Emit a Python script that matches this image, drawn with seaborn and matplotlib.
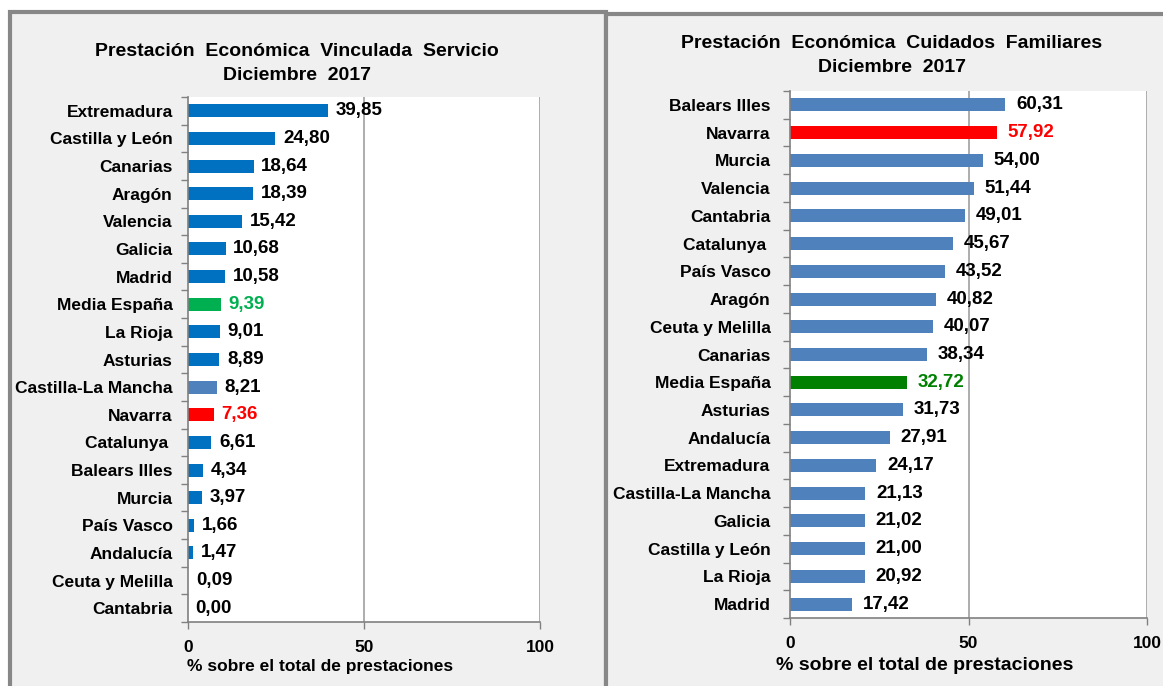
import matplotlib
matplotlib.use("Agg")
import matplotlib.pyplot as plt
from matplotlib.patches import Rectangle
from matplotlib.ticker import FixedLocator
import pandas as pd
import seaborn as sns

# Prestación Económica Vinculada Servicio (left panel)
left_regions = ["Extremadura", "Castilla y León", "Canarias", "Aragón", "Valencia",
                "Galicia", "Madrid", "Media España", "La Rioja", "Asturias",
                "Castilla-La Mancha", "Navarra", "Catalunya ", "Balears Illes",
                "Murcia", "País Vasco", "Andalucía", "Ceuta y Melilla", "Cantabria"]
left_values = [39.85, 24.80, 18.64, 18.39, 15.42, 10.68, 10.58, 9.39, 9.01, 8.89,
               8.21, 7.36, 6.61, 4.34, 3.97, 1.66, 1.47, 0.09, 0.00]

# Prestación Económica Cuidados Familiares (right panel)
right_regions = ["Balears Illes", "Navarra", "Murcia", "Valencia", "Cantabria",
                 "Catalunya ", "País Vasco", "Aragón", "Ceuta y Melilla", "Canarias",
                 "Media España", "Asturias", "Andalucía", "Extremadura",
                 "Castilla-La Mancha", "Galicia", "Castilla y León", "La Rioja", "Madrid"]
right_values = [60.31, 57.92, 54.00, 51.44, 49.01, 45.67, 43.52, 40.82, 40.07, 38.34,
                32.72, 31.73, 27.91, 24.17, 21.13, 21.02, 21.00, 20.92, 17.42]

xticks = [0, 50, 100]
FONT = "Liberation Sans"
W, H = 1163, 686
FS = 12.5


def colors_for(regions, base, special):
    pal = {r: base for r in regions}
    pal.update(special)
    return pal


def draw_panel(fig, rect, regions, values, palette, text_colors, pad, gap):
    ax = fig.add_axes(rect, zorder=2)
    df = pd.DataFrame({"region": regions, "value": values})
    sns.barplot(data=df, x="value", y="region", hue="region", palette=palette,
                orient="h", width=0.47, legend=False, saturation=1, ax=ax)
    ax.set_xlim(0, 100)
    ax.set_ylim(len(regions) - 0.5, -0.5)
    ax.set_facecolor("white")
    ax.set_xlabel("")
    ax.set_ylabel("")
    ax.set_xticks(xticks)
    ax.set_xticklabels([str(t) for t in xticks], fontfamily=FONT,
                       fontweight="bold", fontsize=FS)
    ax.set_yticks(range(len(regions)))
    ax.set_yticklabels(regions, fontfamily=FONT, fontweight="bold", fontsize=FS)
    ax.tick_params(axis="y", length=0, pad=pad)
    ax.yaxis.set_minor_locator(FixedLocator([i - 0.5 for i in range(len(regions) + 1)]))
    ax.tick_params(axis="y", which="minor", length=5, color="#808080", width=1)
    ax.tick_params(axis="x", length=5, color="#808080", width=1, pad=8)
    for x in [50, 100]:
        ax.axvline(x, color="#A0A0A0", lw=1.2, zorder=0)
    for s in ["top", "right"]:
        ax.spines[s].set_visible(False)
    for s in ["left", "bottom"]:
        ax.spines[s].set_color("#808080")
        ax.spines[s].set_linewidth(1.2)
    for i, (r, v) in enumerate(zip(regions, values)):
        ax.text(v + gap, i, f"{v:.2f}".replace(".", ","), va="center", ha="left",
                fontfamily=FONT, fontweight="bold", fontsize=13.5,
                color=text_colors.get(r, "black"))
    return ax


fig = plt.figure(figsize=(W / 100, H / 100), dpi=100)
fig.patch.set_facecolor("white")

# panel frames
fig.patches.append(Rectangle((10 / W, -0.05), (596 / W), 1.05 - 12 / H,
                             transform=fig.transFigure, facecolor="#F0F0F0",
                             edgecolor="#878787", lw=3, zorder=-10))
fig.patches.append(Rectangle((606 / W, -0.05), 0.5, 1.05 - 14 / H,
                             transform=fig.transFigure, facecolor="#F0F0F0",
                             edgecolor="#878787", lw=3, zorder=-10))

left_pal = colors_for(left_regions, "#0070C0",
                      {"Castilla-La Mancha": "#4F81BD", "Navarra": "#FF0000",
                       "Media España": "#00B050"})
right_pal = colors_for(right_regions, "#4F81BD",
                       {"Navarra": "#FF0000", "Media España": "#008000"})

draw_panel(fig, [188 / W, 1 - 622 / H, 352 / W, 525 / H], left_regions, left_values,
           left_pal, {"Navarra": "#FF0000", "Media España": "#00B050"}, 11, 2.2)
draw_panel(fig, [790 / W, 1 - 618 / H, 357 / W, 527 / H], right_regions, right_values,
           right_pal, {"Navarra": "#FF0000", "Media España": "#008000"}, 14, 3.0)

# titles and axis labels
title_kw = dict(ha="center", va="center", fontfamily=FONT, fontweight="bold", fontsize=14)
fig.text(297 / W, 1 - 51 / H, "Prestación  Económica  Vinculada  Servicio", **title_kw)
fig.text(297 / W, 1 - 75 / H, "Diciembre  2017", **title_kw)
fig.text(892 / W, 1 - 43 / H, "Prestación  Económica  Cuidados  Familiares", **title_kw)
fig.text(892 / W, 1 - 67 / H, "Diciembre  2017", **title_kw)

label_kw = dict(ha="center", va="center", fontfamily=FONT, fontweight="bold")
fig.text(320 / W, 1 - 667 / H, "% sobre el total de prestaciones", fontsize=FS, **label_kw)
fig.text(925 / W, 1 - 665 / H, "% sobre el total de prestaciones", fontsize=14, **label_kw)

fig.savefig("out.png", dpi=100)
